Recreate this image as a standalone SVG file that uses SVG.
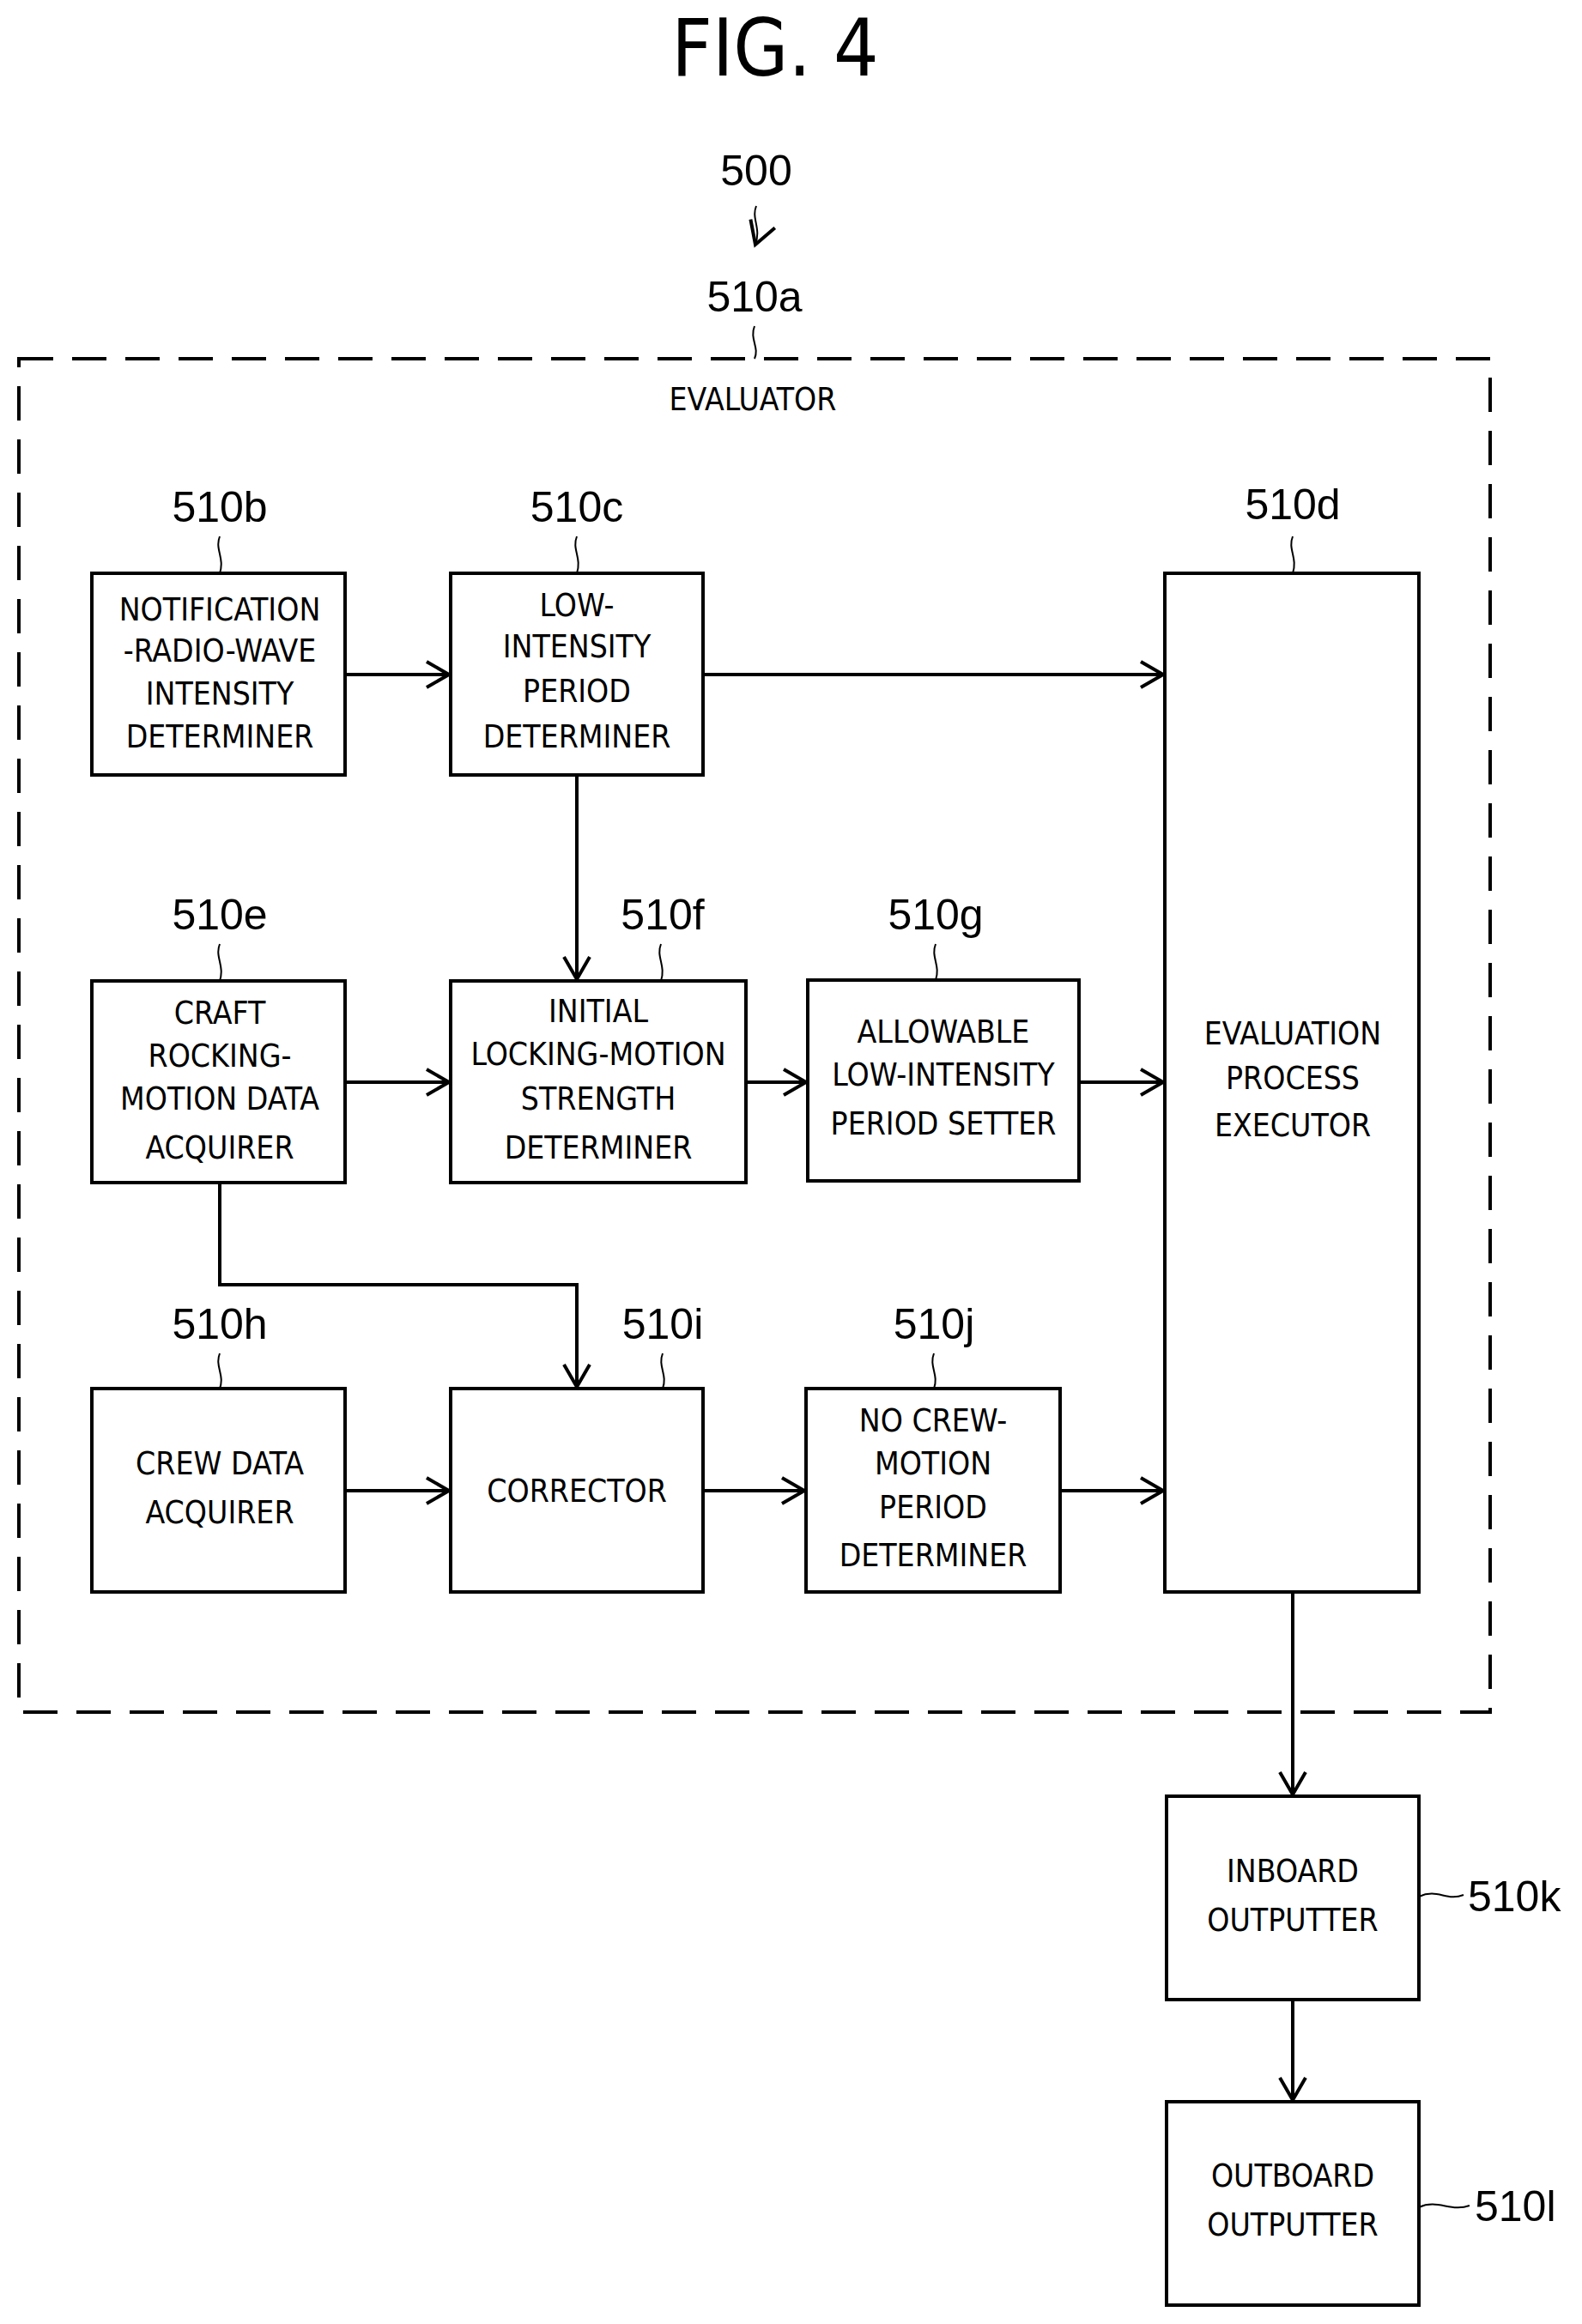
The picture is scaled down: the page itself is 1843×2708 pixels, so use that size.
<svg xmlns="http://www.w3.org/2000/svg" width="1843" height="2708" viewBox="0 0 1843 2708">
<style>
.b{fill:#fff;stroke:#000;stroke-width:4}
.t{font-family:"DejaVu Sans Condensed","DejaVu Sans",sans-serif;font-size:37px;text-anchor:middle;dominant-baseline:central}
.r{font-family:"Liberation Sans",Arial,sans-serif;font-size:50px;text-anchor:middle}
.c{fill:none;stroke:#000;stroke-width:4}
.s{fill:none;stroke:#000;stroke-width:2}
</style>
<defs><marker id="a" markerWidth="12" markerHeight="12" refX="10" refY="6" orient="auto" markerUnits="userSpaceOnUse" viewBox="0 0 12 12"><path d="M0,0 L10,6 L0,12" fill="none" stroke="#000" stroke-width="0"/></marker>
<marker id="v" markerWidth="40" markerHeight="40" refX="36" refY="20" orient="auto" markerUnits="userSpaceOnUse"><path d="M10,5 L36,20 L10,35" fill="none" stroke="#000" stroke-width="4"/></marker></defs>
<rect width="1843" height="2708" fill="#fff"/>
<text x="903" y="88" font-family="DejaVu Sans Condensed,sans-serif" font-size="92" text-anchor="middle">FIG. 4</text>
<text class="r" x="881" y="216">500</text>
<path class="s" d="M881,240 C875,255 887,265 880,285" marker-end="url(#v)"/>
<g id="evaluator">
<rect x="22" y="418" width="1714" height="1577" fill="none" stroke="#000" stroke-width="4" stroke-dasharray="40,22"/>
<text class="r" x="879" y="363">510a</text>
<path class="s" d="M879,380 C873,395 885,405 879,418"/>
<text class="t" x="877" y="465">EVALUATOR</text>
</g>
<g id="n510b"><rect class="b" x="107" y="668" width="295" height="235"/><text class="r" x="256" y="608">510b</text><path class="s" d="M256,625 C250,640 262,650 256,668"/><text class="t" x="256" y="710">NOTIFICATION</text><text class="t" x="256" y="758">-RADIO-WAVE</text><text class="t" x="256" y="808">INTENSITY</text><text class="t" x="256" y="858">DETERMINER</text></g>
<g id="n510c"><rect class="b" x="525" y="668" width="294" height="235"/><text class="r" x="672" y="608">510c</text><path class="s" d="M672,625 C666,640 678,650 672,668"/><text class="t" x="672" y="705">LOW-</text><text class="t" x="672" y="753">INTENSITY</text><text class="t" x="672" y="805">PERIOD</text><text class="t" x="672" y="858">DETERMINER</text></g>
<g id="n510d"><rect class="b" x="1357" y="668" width="296" height="1187"/><text class="r" x="1506" y="605">510d</text><path class="s" d="M1506,625 C1500,640 1512,650 1506,668"/><text class="t" x="1506" y="1204">EVALUATION</text><text class="t" x="1506" y="1256">PROCESS</text><text class="t" x="1506" y="1311">EXECUTOR</text></g>
<g id="n510e"><rect class="b" x="107" y="1143" width="295" height="235"/><text class="r" x="256" y="1083">510e</text><path class="s" d="M256,1100 C250,1115 262,1125 256,1143"/><text class="t" x="256" y="1180">CRAFT</text><text class="t" x="256" y="1230">ROCKING-</text><text class="t" x="256" y="1280">MOTION DATA</text><text class="t" x="256" y="1337">ACQUIRER</text></g>
<g id="n510f"><rect class="b" x="525" y="1143" width="344" height="235"/><text class="r" x="772" y="1083">510f</text><path class="s" d="M770,1100 C764,1115 776,1125 770,1143"/><text class="t" x="697" y="1178">INITIAL</text><text class="t" x="697" y="1228">LOCKING-MOTION</text><text class="t" x="697" y="1280">STRENGTH</text><text class="t" x="697" y="1337">DETERMINER</text></g>
<g id="n510g"><rect class="b" x="941" y="1142" width="316" height="234"/><text class="r" x="1090" y="1083">510g</text><path class="s" d="M1090,1100 C1084,1115 1096,1125 1090,1142"/><text class="t" x="1099" y="1202">ALLOWABLE</text><text class="t" x="1099" y="1252">LOW-INTENSITY</text><text class="t" x="1099" y="1309">PERIOD SETTER</text></g>
<g id="n510h"><rect class="b" x="107" y="1618" width="295" height="237"/><text class="r" x="256" y="1560">510h</text><path class="s" d="M256,1577 C250,1592 262,1602 256,1618"/><text class="t" x="256" y="1705">CREW DATA</text><text class="t" x="256" y="1762">ACQUIRER</text></g>
<g id="n510i"><rect class="b" x="525" y="1618" width="294" height="237"/><text class="r" x="772" y="1560">510i</text><path class="s" d="M772,1577 C766,1592 778,1602 772,1618"/><text class="t" x="672" y="1737">CORRECTOR</text></g>
<g id="n510j"><rect class="b" x="939" y="1618" width="296" height="237"/><text class="r" x="1088" y="1560">510j</text><path class="s" d="M1088,1577 C1082,1592 1094,1602 1088,1618"/><text class="t" x="1087" y="1655">NO CREW-</text><text class="t" x="1087" y="1705">MOTION</text><text class="t" x="1087" y="1756">PERIOD</text><text class="t" x="1087" y="1812">DETERMINER</text></g>
<g id="n510k"><rect class="b" x="1359" y="2093" width="294" height="237"/><text class="r" x="1710" y="2227" text-anchor="start" style="text-anchor:start">510k</text><path class="s" d="M1653,2210 C1675,2200 1685,2216 1705,2208"/><text class="t" x="1506" y="2180">INBOARD</text><text class="t" x="1506" y="2237">OUTPUTTER</text></g>
<g id="n510l"><rect class="b" x="1359" y="2449" width="294" height="237"/><text class="r" x="1718" y="2588" style="text-anchor:start">510l</text><path class="s" d="M1653,2572 C1675,2562 1690,2578 1712,2570"/><text class="t" x="1506" y="2535">OUTBOARD</text><text class="t" x="1506" y="2592">OUTPUTTER</text></g>
<g id="connectors">
<path class="c" d="M402,786 H523" marker-end="url(#v)"/>
<path class="c" d="M819,786 H1355" marker-end="url(#v)"/>
<path class="c" d="M672,903 V1141" marker-end="url(#v)"/>
<path class="c" d="M402,1261 H523" marker-end="url(#v)"/>
<path class="c" d="M869,1261 H939" marker-end="url(#v)"/>
<path class="c" d="M1257,1261 H1355" marker-end="url(#v)"/>
<path class="c" d="M256,1378 V1497 H672 V1616" marker-end="url(#v)"/>
<path class="c" d="M402,1737 H523" marker-end="url(#v)"/>
<path class="c" d="M819,1737 H937" marker-end="url(#v)"/>
<path class="c" d="M1235,1737 H1355" marker-end="url(#v)"/>
<path class="c" d="M1506,1855 V2091" marker-end="url(#v)"/>
<path class="c" d="M1506,2330 V2447" marker-end="url(#v)"/>
</g>
</svg>
